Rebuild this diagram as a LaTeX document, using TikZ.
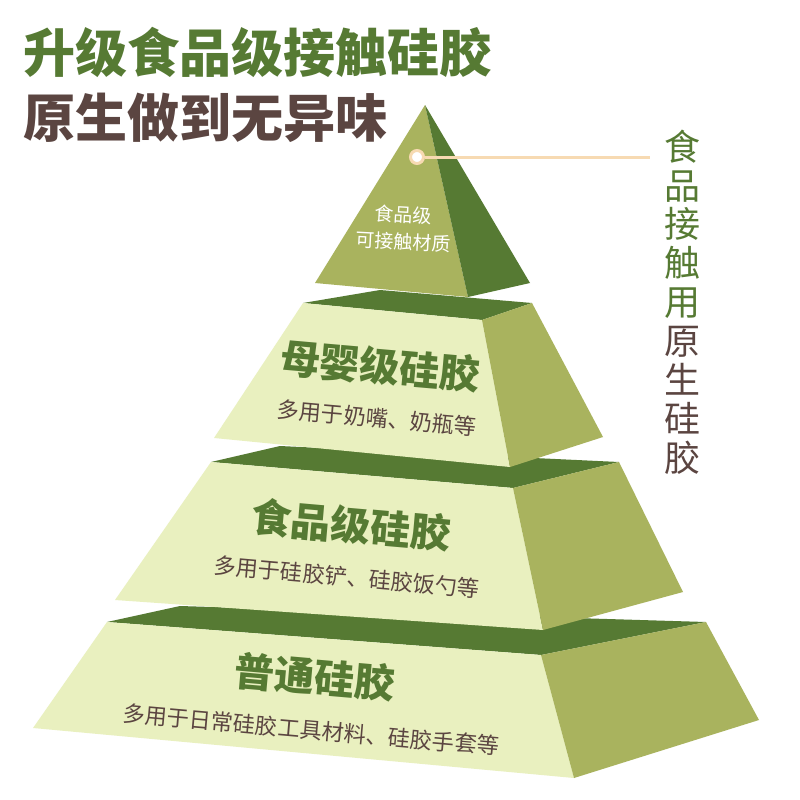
\documentclass[tikz,border=0pt]{standalone}
\usepackage{fontspec}
\newfontfamily\cjk{Noto Sans CJK SC}
\definecolor{cfront}{HTML}{E9F0BF}
\definecolor{cside}{HTML}{A9B35E}
\definecolor{cdark}{HTML}{567A33}
\definecolor{cgreen}{HTML}{567A33}
\definecolor{cbrown}{HTML}{5B4541}
\definecolor{cline}{HTML}{F7DAB2}
\tikzset{
  frontface/.style={fill=cfront},
  sideface/.style={fill=cside},
  topface/.style={fill=cdark},
  tiertitle/.style={font=\cjk\bfseries\fontsize{40}{40}\selectfont, text=cgreen, inner sep=0pt, rotate=-5},
  tiersub/.style={font=\cjk\fontsize{22.2}{22.2}\selectfont, text=cbrown, inner sep=0pt, rotate=-5},
  bigtitle/.style={font=\cjk\bfseries\fontsize{52}{52}\selectfont, inner sep=0pt, anchor=west},
  toptext/.style={font=\cjk\fontsize{19}{19}\selectfont, text=white, inner sep=0pt, rotate=-3}
}
\begin{document}
\begin{tikzpicture}[x=1pt,y=-1pt]
\useasboundingbox (0,0) rectangle (800,800);
\fill[white] (0,0) rectangle (800,800);
% tier 4
\fill[topface] (107,622) -- (180,606) -- (706,622) -- (541,655) -- cycle;
\fill[frontface] (107,622) -- (541,655) -- (574,778) -- (33,728) -- cycle;
\fill[sideface] (541,655) -- (706,622) -- (759,720) -- (574,778) -- cycle;
% tier 3
\fill[topface] (211,462) -- (280,446) -- (619,462) -- (513,488) -- cycle;
\fill[frontface] (211,462) -- (513,488) -- (543,630) -- (115,600) -- cycle;
\fill[sideface] (513,488) -- (619,462) -- (683,592) -- (543,630) -- cycle;
% tier 2
\fill[topface] (303,303) -- (380,290) -- (532,303) -- (482,320) -- cycle;
\fill[frontface] (303,303) -- (482,320) -- (510,467) -- (214,438) -- cycle;
\fill[sideface] (482,320) -- (532,303) -- (603,437) -- (510,467) -- cycle;
% top pyramid
\fill[cside] (425,105) -- (315,283) -- (468,297) -- cycle;
\fill[cdark] (425,105) -- (468,297) -- (530,283) -- cycle;
% titles
\node[bigtitle, text=cgreen] (title1) at (23,52) {升级食品级接触硅胶};
\node[bigtitle, text=cbrown] (title2) at (23,118) {原生做到无异味};
% pyramid texts
\node[toptext] (top1) at (403,215) {食品级};
\node[toptext] (top2) at (403,242) {可接触材质};
\node[tiertitle] (t2) at (380,366) {母婴级硅胶};
\node[tiersub] (s2) at (377,418) {多用于奶嘴、奶瓶等};
\node[tiertitle] (t3) at (351,525) {食品级硅胶};
\node[tiersub] (s3) at (347,577) {多用于硅胶铲、硅胶饭勺等};
\node[tiertitle] (t4) at (315,677) {普通硅胶};
\node[tiersub] (s4) at (311,730) {多用于日常硅胶工具材料、硅胶手套等};
% connector
\coordinate (lineend) at (650,157);
\node[circle, fill=white, draw=cline, line width=3pt, minimum size=13pt, inner sep=0pt] (dot) at (417,157) {};
\draw[cline, line width=3pt] (dot) -- (lineend);
% vertical label
\node[font=\cjk\fontsize{36}{38.9}\selectfont, align=center, inner sep=0pt] (vlabel) at (682,302)
  {\textcolor{cgreen}{食}\\\textcolor{cgreen}{品}\\\textcolor{cgreen}{接}\\\textcolor{cgreen}{触}\\\textcolor{cgreen}{用}\\\textcolor{cbrown}{原}\\\textcolor{cbrown}{生}\\\textcolor{cbrown}{硅}\\\textcolor{cbrown}{胶}};
\end{tikzpicture}
\end{document}
